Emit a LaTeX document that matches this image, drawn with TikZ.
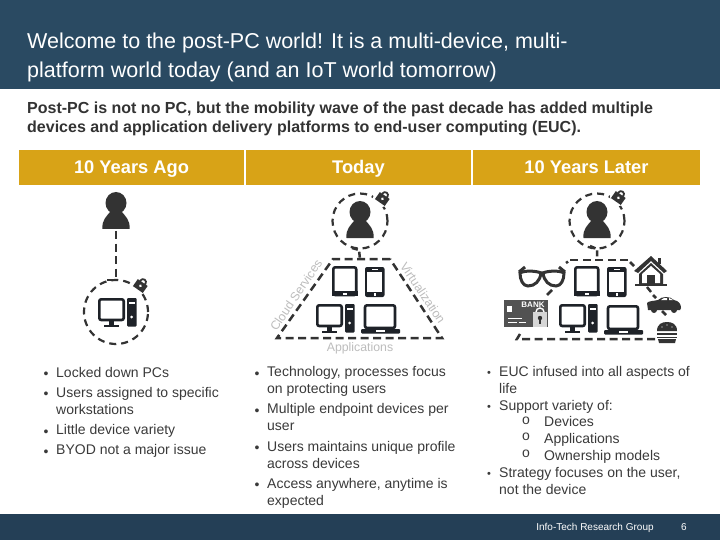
\documentclass[tikz,border=0pt]{standalone}
\usepackage{fontspec}
\setmainfont{Liberation Sans}
\definecolor{navy}{HTML}{2A4A62}
\definecolor{footnavy}{HTML}{243F56}
\definecolor{gold}{HTML}{D8A317}
\definecolor{ink}{HTML}{333333}
\definecolor{icon}{HTML}{1E2228}
\definecolor{bodytext}{HTML}{3A3A3A}
\definecolor{pale}{HTML}{BDBDBD}
\tikzset{
 dashline/.style={draw=ink,line width=2.5pt,dash pattern=on 8pt off 4.5pt},
 dashring/.style={draw=ink,line width=2.2pt,dash pattern=on 7pt off 5pt},
 hdr/.style={fill=gold,minimum height=35pt,inner sep=0pt,text=white,text height=15pt,text depth=2pt,font=\fontsize{18.3}{20}\selectfont\bfseries},
 bl/.style={anchor=north west,inner sep=0pt,text=bodytext,align=left,font=\fontsize{14}{16.9}\selectfont},
 dot/.style={anchor=north west,inner sep=0pt,text=bodytext,font=\fontsize{14}{16.9}\selectfont},
 smalldot/.style={anchor=north west,inner sep=0pt,text=bodytext,font=\fontsize{11}{16.9}\selectfont},
 pale text/.style={inner sep=0pt,text=pale,font=\fontsize{12.3}{14}\selectfont}
}
\newcommand{\person}[2]{\begin{scope}[shift={(#1,#2)}]
 \fill[ink] (0,-9) circle[x radius=10.5pt,y radius=11pt];
 \fill[ink] (-13.5,17) .. controls (-14.5,8) and (-9,4) .. (-6,0) -- (6,0) .. controls (9,4) and (14.5,8) .. (13.5,17) -- cycle;
\end{scope}}
\newcommand{\desktop}[2]{\begin{scope}[shift={(#1,#2)}]
 \draw[icon,line width=2.6pt,rounded corners=2pt] (1.3,1.3) rectangle (25.7,22);
 \fill[icon] (11,23) rectangle (16,27); \fill[icon] (6,27) rectangle (21,28.5);
 \fill[icon,rounded corners=1pt] (29,0) rectangle (38.5,28.5);
 \fill[white] (30.5,4) rectangle (37,5.5); \fill[white] (33.7,19) circle (1.5pt);
\end{scope}}
\newcommand{\tablet}[2]{\begin{scope}[shift={(#1,#2)}]
 \draw[icon,line width=2.6pt,rounded corners=2pt,fill=white] (1.3,1.3) rectangle (24.2,29);
 \fill[icon] (0,25) rectangle (25.5,30);
 \fill[white] (11,26.5) rectangle (14.5,28.5);
\end{scope}}
\newcommand{\phone}[2]{\begin{scope}[shift={(#1,#2)}]
 \fill[icon,rounded corners=2pt] (0,0) rectangle (19.5,30);
 \fill[white] (2.2,4.5) rectangle (17.3,25);
 \fill[white] (7,1.7) rectangle (12.5,2.8);
 \fill[white] (8.5,26) rectangle (11,28.5);
\end{scope}}
\newcommand{\laptop}[2]{\begin{scope}[shift={(#1,#2)}]
 \draw[icon,line width=2.6pt,rounded corners=2pt,fill=white] (4,1.3) rectangle (34,24);
 \fill[icon,rounded corners=1pt] (0,25) rectangle (39,29.5);
 \fill[white] (15,25.8) rectangle (24,27.5);
\end{scope}}
\newcommand{\padlock}[2]{\begin{scope}[shift={(#1,#2)},rotate=-35]
 \draw[ink,line width=1.8pt] (0,-3.5) circle (3pt);
 \fill[ink] (-6,-3) rectangle (6,5.5);
 \fill[white] (0,1) circle (1.5pt);
\end{scope}}
\begin{document}
\begin{tikzpicture}[x=1pt,y=-1pt]
\useasboundingbox (0,0) rectangle (720,540);
\fill[white] (0,0) rectangle (720,540);
\fill[navy] (0,0) rectangle (720,89);
\fill[footnavy] (0,514) rectangle (720,540);
\node[anchor=north west,inner sep=0pt,text=white,align=left,font=\fontsize{21.5}{29}\selectfont] (title) at (27,33)
 {Welcome to the post-PC world! It is a multi-device, multi-\\platform world today (and an IoT world tomorrow)};
\node[anchor=north west,inner sep=0pt,text=ink,align=left,font=\fontsize{16}{19}\selectfont\bfseries] (sub) at (27,102)
 {Post-PC is not no PC, but the mobility wave of the past decade has added multiple\\devices and application delivery platforms to end-user computing (EUC).};
\node[hdr,minimum width=225pt] (h1) at (131.5,167.5) {10 Years Ago};
\node[hdr,minimum width=225pt] (h2) at (358.5,167.5) {Today};
\node[hdr,minimum width=227pt] (h3) at (586.5,167.5) {10 Years Later};
% left
\person{116}{212}
\coordinate (a1) at (116,231); \coordinate (a2) at (116,280); \coordinate (a3) at (107,280);
\draw[dashline] (a1) -- (a2) -- (a3);
\draw[dashring] (116,312) circle (32pt);
\desktop{98}{298}
\fill[white] (141,285) circle (8pt);
\padlock{141}{285}
% middle
\person{360}{221}
\draw[dashring] (360,221) circle (27.5pt);
\fill[white] (382,198) circle (9pt);
\padlock{383}{198}
\coordinate (b1) at (352,248); \coordinate (b2) at (359,250); \coordinate (b3) at (360,259);
\draw[dashline,dash pattern=on 6pt off 3pt] (b1) -- (b2) -- (b3);
\draw[dashline] (390,259) -- (333,259) -- (277,338) -- (442,338) -- cycle;
\tablet{332}{266}\phone{365}{267}\desktop{316}{304}\laptop{361}{304}
\node[pale text,rotate=56] (cs) at (296,295) {Cloud Services};
\node[pale text,rotate=-56] (vi) at (423,293) {Virtualization};
\node[pale text] (ap) at (360,348.5) {Applications};
% right
\person{597}{221}
\draw[dashring] (597,221) circle (27.5pt);
\fill[white] (619,197) circle (9pt);
\padlock{619}{197}
\coordinate (c1) at (590,246); \coordinate (c2) at (597,249); \coordinate (c3) at (597,259);
\draw[dashline,dash pattern=on 6pt off 3pt] (c1) -- (c2) -- (c3);
\draw[dashline] (628,260) -- (570,260);
\draw[draw=ink,line width=2.5pt] (566,263) -- (568,261.5);
\draw[draw=ink,line width=2.5pt] (630,262) -- (634,266);
\draw[draw=ink,line width=2.5pt] (552,290) -- (547,295);
\draw[draw=ink,line width=2.5pt] (647,287) -- (651,292);
\draw[draw=ink,line width=2.5pt] (653,295) -- (656,298);
\draw[draw=ink,line width=2.5pt] (662,311) -- (666,315);
\draw[dashline] (655,339) -- (517,339) -- (520,334);
\tablet{574}{266}\phone{607}{267}\desktop{559}{304}\laptop{604}{305}
% glasses
\draw[ink,line width=3pt,fill=white] (520,273) .. controls (525,270) and (537,271) .. (541,273) .. controls (540,281) and (535,286) .. (528,286) .. controls (523,286) and (520,280) .. (520,273) -- cycle;
\draw[ink,line width=3pt,fill=white] (564,273) .. controls (559,270) and (547,271) .. (543,273) .. controls (544,281) and (549,286) .. (556,286) .. controls (561,286) and (564,280) .. (564,273) -- cycle;
\draw[ink,line width=3pt] (519,272) -- (525,267) (565,272) -- (559,267) (540,273) -- (544,273);
% house
\fill[ink] (651,256) -- (667,271) -- (664,273) -- (651,261) -- (638,273) -- (634,271) -- cycle;
\fill[ink] (658,258) rectangle (661,264);
\fill[ink] (639,274) -- (651,263) -- (663,274) -- (663,285) -- (639,285) -- cycle;
\fill[white] (642,274) -- (651,266) -- (660,274) -- (660,283) -- (642,283) -- cycle;
\fill[ink] (647,275) rectangle (655,285);
\fill[ink] (635,284) rectangle (667,286);
% car
\fill[ink] (647,303) .. controls (648,301) and (654,301) .. (658,300) .. controls (662,296) and (670,296) .. (674,300) .. controls (679,301) and (681,304) .. (681,308) -- (680,310) -- (648,310) -- cycle;
\fill[ink] (654,310) circle (3pt); \fill[ink] (674,310) circle (3pt);
\fill[white] (661,300) -- (664,298) -- (667,298) -- (667,300) -- cycle;
\fill[white] (669,300) -- (669,298) -- (671,299) -- (673,300) -- cycle;
% burger
\fill[ink] (657,331) .. controls (657,324) and (662,322) .. (667,322) .. controls (672,322) and (677,324) .. (677,331) -- cycle;
\fill[ink] (657,332.5) rectangle (677,335);
\fill[ink] (657,336.5) rectangle (677,338);
\fill[ink] (658,339) -- (676,339) -- (675,343) -- (659,343) -- cycle;
\fill[white] (662,327) circle (.7pt) (667,325) circle (.7pt) (672,327) circle (.7pt);
% bank card
\fill[ink!85] (504,300) rectangle (548,327);
\fill[white] (507,306) rectangle (512,312);
\node[inner sep=0pt,text=white,font=\fontsize{8}{9}\selectfont\bfseries] (bank) at (533,305) {BANK};
\draw[white,line width=.8pt] (508,318) -- (522,318) (508,322) -- (517,322) (519,322) -- (526,322);
\draw[white,line width=1.4pt] (544,312) arc[start angle=0,end angle=180,radius=4pt];
\fill[white!80!ink] (533,312) rectangle (547,327);
\fill[ink] (540,318) circle (2.2pt); \fill[ink] (539,318) rectangle (541,324);
% bullets left
\foreach \y/\n in {372/a,392/b,430/c,450/d}{\node[dot] (bu\n) at (43.5,\y) {•};}
\node[bl] (l1) at (56,367) {Locked down PCs};
\node[bl] (l2) at (56,387) {Users assigned to specific\\workstations};
\node[bl] (l3) at (56,424) {Little device variety};
\node[bl] (l4) at (56,444) {BYOD not a major issue};
% bullets mid
\foreach \y/\n in {372/a,409/b,446/c,483/d}{\node[dot] (mu\n) at (254.5,\y) {•};}
\node[bl] (m1) at (267,366) {Technology, processes focus\\on protecting users};
\node[bl] (m2) at (267,403) {Multiple endpoint devices per\\user};
\node[bl] (m3) at (267,441) {Users maintains unique profile\\across devices};
\node[bl] (m4) at (267,478) {Access anywhere, anytime is\\expected};
% bullets right
\foreach \y/\n in {371/a,405/b,472/c}{\node[smalldot] (ru\n) at (487,\y) {•};}
\node[bl] (r1) at (499,366) {EUC infused into all aspects of\\life};
\node[bl] (r2) at (499,400) {Support variety of:};
\node[bl] (r3) at (522,416.4) {o};
\node[bl] (r4) at (522,433.2) {o};
\node[bl] (r5) at (522,450) {o};
\node[bl] (r6) at (544,416.4) {Devices};
\node[bl] (r7) at (544,433.2) {Applications};
\node[bl] (r8) at (544,450) {Ownership models};
\node[bl] (r9) at (499,467) {Strategy focuses on the user,\\not the device};
% footer
\node[inner sep=0pt,text=white,font=\fontsize{10}{11}\selectfont] (ft) at (595,527.5) {Info-Tech Research Group};
\node[inner sep=0pt,text=white,font=\fontsize{10}{11}\selectfont] (pg) at (684,527.5) {6};
\end{tikzpicture}
\end{document}
